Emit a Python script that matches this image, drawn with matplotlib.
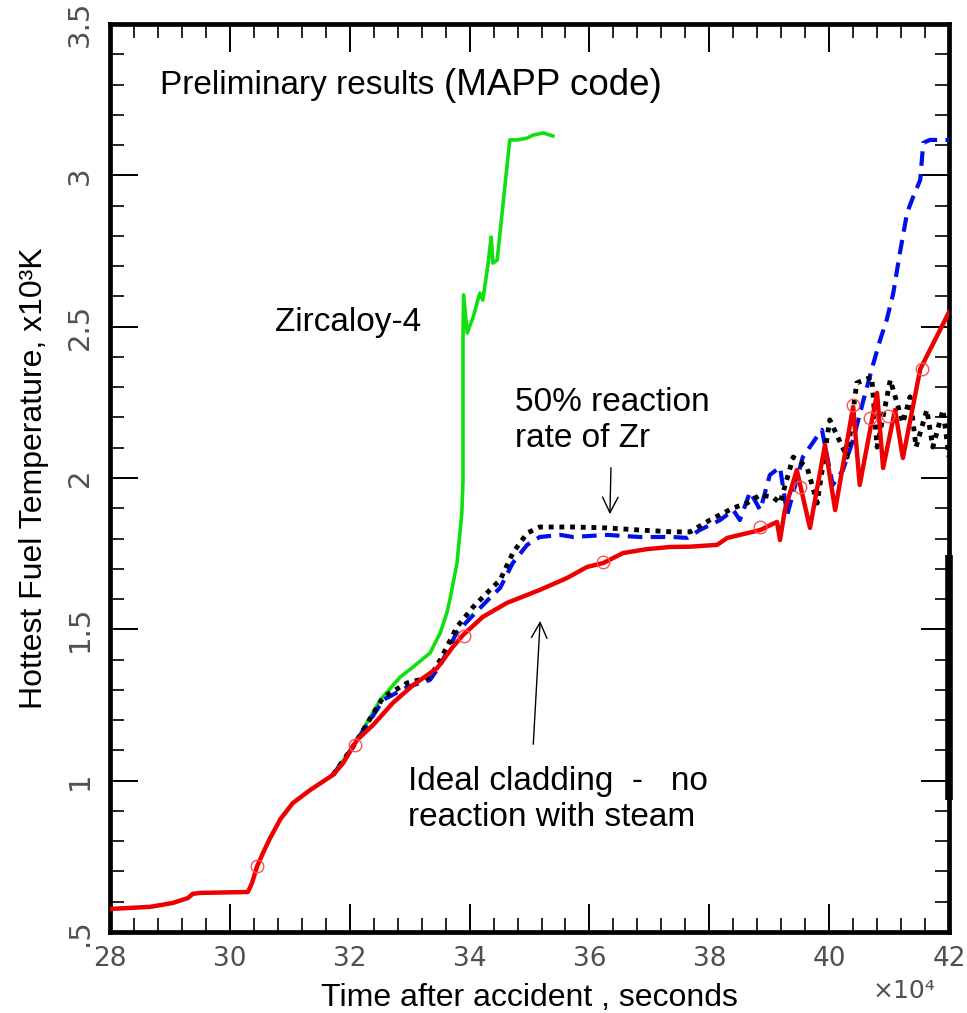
import matplotlib
matplotlib.use("Agg")
import matplotlib.pyplot as plt
from matplotlib.ticker import MultipleLocator

# ---- data (x in units of 1e4 s, y in 1e3 K) ----
red_x = [28.00, 28.67, 29.05, 29.30, 29.38, 29.50, 30.30, 30.37, 30.45, 30.55,
         30.67, 30.84, 31.05, 31.34, 31.72, 31.89, 32.05, 32.12, 32.39, 32.72,
         33.06, 33.46, 33.72, 33.89, 34.22, 34.62, 35.17, 35.63, 35.96, 36.23,
         36.56, 36.96, 37.34, 37.68, 38.13, 38.30, 38.85, 39.13, 39.18, 39.26,
         39.46, 39.68, 39.93, 40.10, 40.40, 40.51, 40.80, 40.90, 41.10, 41.23,
         41.52, 41.85, 42.00]
red_y = [0.576, 0.583, 0.596, 0.612, 0.626, 0.629, 0.632, 0.662, 0.715, 0.760,
         0.810, 0.872, 0.926, 0.969, 1.019, 1.058, 1.111, 1.134, 1.184, 1.257,
         1.316, 1.372, 1.442, 1.481, 1.541, 1.587, 1.630, 1.670, 1.706, 1.719,
         1.752, 1.765, 1.772, 1.773, 1.779, 1.802, 1.828, 1.855, 1.795, 1.894,
         2.026, 1.835, 2.109, 1.894, 2.235, 1.977, 2.281, 2.033, 2.225, 2.066,
         2.360, 2.489, 2.548]
red_mark_x = [30.45, 32.09, 33.91, 36.23, 38.85, 39.51, 40.40, 40.68, 40.98, 41.55]
red_mark_y = [0.718, 1.118, 1.478, 1.722, 1.838, 1.970, 2.241, 2.198, 2.205, 2.360]

black_x = [31.72, 32.05, 32.56, 32.96, 33.34, 33.51, 33.79, 34.06, 34.34, 34.51,
           34.72, 34.96, 35.17, 35.73, 36.29, 36.84, 37.39, 37.68, 38.01, 38.40,
           38.63, 38.85, 39.06, 39.18, 39.40, 39.63, 39.80, 40.01, 40.30, 40.46,
           40.71, 40.80, 41.02, 41.23, 41.35, 41.45, 41.63, 41.73, 41.90, 42.00]
black_y = [1.019, 1.111, 1.276, 1.323, 1.342, 1.399, 1.508, 1.574, 1.630, 1.663,
           1.752, 1.818, 1.838, 1.838, 1.835, 1.828, 1.822, 1.822, 1.861, 1.901,
           1.917, 1.944, 1.937, 1.917, 2.069, 2.036, 1.917, 2.192, 2.069, 2.314,
           2.334, 2.102, 2.324, 2.182, 2.268, 2.102, 2.225, 2.102, 2.225, 2.069]

blue_x = [31.72, 32.05, 32.56, 32.96, 33.34, 33.51, 33.79, 34.06, 34.34, 34.51,
          34.72, 34.96, 35.17, 35.51, 35.73, 36.29, 36.84, 37.39, 37.63, 37.84,
          38.18, 38.40, 38.51, 38.68, 38.85, 39.01, 39.18, 39.30, 39.56, 39.76,
          39.88, 40.06, 40.23, 40.40, 40.56, 40.73, 40.85, 40.96, 41.07, 41.18,
          41.30, 41.40, 41.52, 41.57, 41.68, 42.00]
blue_y = [1.019, 1.111, 1.267, 1.309, 1.333, 1.382, 1.491, 1.547, 1.604, 1.637,
          1.719, 1.779, 1.805, 1.812, 1.805, 1.812, 1.805, 1.805, 1.802, 1.828,
          1.861, 1.894, 1.861, 1.954, 1.894, 2.010, 2.036, 1.878, 2.069, 2.126,
          2.159, 1.977, 2.026, 2.126, 2.248, 2.373, 2.456, 2.522, 2.611, 2.743,
          2.876, 2.928, 2.985, 3.107, 3.117, 3.117]

green_x = [31.72, 32.05, 32.51, 32.84, 33.06, 33.34, 33.51, 33.62, 33.67, 33.79,
           33.87, 33.89, 33.89, 33.90, 33.96, 34.06, 34.17, 34.22, 34.31, 34.36,
           34.39, 34.46, 34.67, 34.79, 34.96, 35.06, 35.23, 35.39]
green_y = [1.019, 1.111, 1.267, 1.342, 1.376, 1.422, 1.488, 1.554, 1.597, 1.719,
           1.884, 1.993, 2.466, 2.605, 2.479, 2.532, 2.611, 2.588, 2.710, 2.796,
           2.710, 2.720, 3.117, 3.117, 3.123, 3.133, 3.140, 3.130]

x_ticks = [28, 30, 32, 34, 36, 38, 40, 42]
x_ticklabels = ["28", "30", "32", "34", "36", "38", "40", "42"]
y_ticks = [0.5, 1.0, 1.5, 2.0, 2.5, 3.0, 3.5]
y_ticklabels = [".5", "1", "1.5", "2", "2.5", "3", "3.5"]

# ---- figure ----
fig = plt.figure(figsize=(9.67, 10.13), dpi=100)
ax = fig.add_axes([0.1138, 0.0800, 0.8676, 0.8963])

ax.plot(green_x, green_y, color="#10e010", lw=2.6, zorder=3)
ax.plot(blue_x, blue_y, color="#0010e8", lw=3.0, linestyle=(0, (3.5, 2.0)), zorder=4)
ax.plot(black_x, black_y, color="black", lw=3.5, linestyle=(0, (1, 1.2)), zorder=5)
ax.plot(red_x, red_y, color="#ee0000", lw=3.2, zorder=6, solid_joinstyle="round")
ax.plot(red_mark_x, red_mark_y, linestyle="none", marker="o", markersize=9,
        markerfacecolor="none", markeredgecolor="#ff5050", markeredgewidth=1.0, zorder=7)

ax.set_xlim(28, 42)
ax.set_ylim(0.5, 3.5)
ax.set_xticks(x_ticks)
ax.set_xticklabels(x_ticklabels)
ax.set_yticks(y_ticks)
ax.set_yticklabels(y_ticklabels, rotation=90, va="center")
ax.xaxis.set_minor_locator(MultipleLocator(0.4))
ax.yaxis.set_minor_locator(MultipleLocator(0.1))
ax.tick_params(which="both", direction="in", top=True, right=True, colors="black")
ax.tick_params(which="major", length=20, width=1.4)
ax.tick_params(which="minor", length=10, width=1.2)
ax.tick_params(axis="x", which="major", labelsize=19, labelcolor="#505050", pad=10)
ax.tick_params(axis="y", which="major", labelsize=21, labelcolor="#505050", pad=12)
for s in ax.spines.values():
    s.set_linewidth(3.4)
    s.set_color("black")

# extra thick segment on right frame
ax.plot([1.0, 1.0], [0.145, 0.415], transform=ax.transAxes, color="black",
        lw=5.5, clip_on=False, solid_capstyle="butt", zorder=10)

lab_font = "Liberation Sans"
ax.set_xlabel("Time after accident , seconds", fontsize=23, family=lab_font, labelpad=8)
ax.set_ylabel("Hottest Fuel Temperature, x10\u00b3K", fontsize=23, family=lab_font, labelpad=12)
fig.text(0.935, 0.022, "\u00d710\u2074", fontsize=18, color="#505050", ha="center", va="center")

ax.text(28.83, 3.298, "Preliminary results ", fontsize=24, family=lab_font, va="center")
ax.text(33.58, 3.298, "(MAPP code)", fontsize=26.5, family=lab_font, va="center")
ax.text(30.75, 2.515, "Zircaloy-4", fontsize=24, family=lab_font, va="center")
ax.text(34.76, 2.251, "50% reaction", fontsize=24, family=lab_font, va="center")
ax.text(34.76, 2.132, "rate of Zr", fontsize=24, family=lab_font, va="center")
ax.text(32.97, 0.996, "Ideal cladding  -   no", fontsize=24, family=lab_font, va="center")
ax.text(32.97, 0.877, "reaction with steam", fontsize=24, family=lab_font, va="center")

ax.annotate("", xy=(36.34, 1.871), xytext=(36.36, 2.043),
            arrowprops=dict(arrowstyle="->", lw=1.0, color="black", mutation_scale=28))
ax.annotate("", xy=(35.18, 1.537), xytext=(35.06, 1.111),
            arrowprops=dict(arrowstyle="->", lw=1.0, color="black", mutation_scale=28))

fig.savefig("out.png", dpi=100)
